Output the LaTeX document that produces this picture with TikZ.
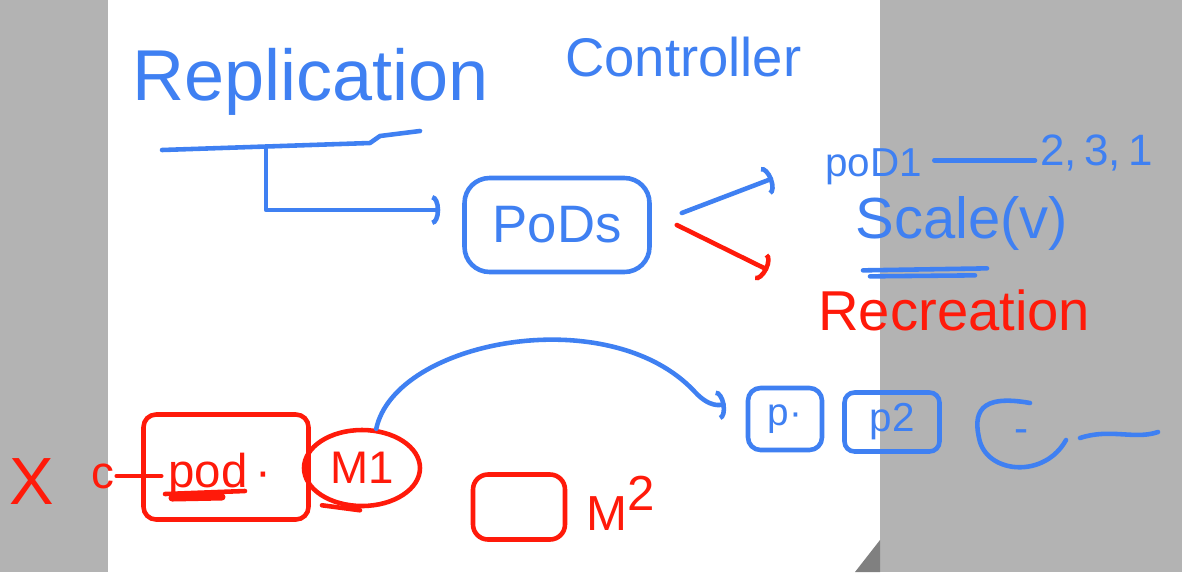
\documentclass[tikz,border=0pt]{standalone}
\usepackage{fontspec}
\setmainfont{Liberation Sans}
\usetikzlibrary{positioning,arrows.meta,calc,shapes.geometric}
\definecolor{pen}{HTML}{3F80F2}
\definecolor{ink}{HTML}{FF1A0A}
\definecolor{board}{HTML}{B3B3B3}
\definecolor{fold}{HTML}{808080}
\newcommand{\fs}[1]{\fontsize{#1}{#1}\selectfont}

\begin{document}
\begin{tikzpicture}[x=0.02cm,y=-0.02cm,
  bl/.style={pen,line width=2.6pt,line cap=round,line join=round},
  rd/.style={ink,line width=2.6pt,line cap=round,line join=round},
  bx/.style={draw,inner sep=0pt},
  tx/.style={inner sep=0pt,anchor=base west},
  ar/.style={-{Arc Barb[length=1.6mm,width=6mm]}}]
  \useasboundingbox (0,0) rectangle (1182,572);
  \fill[board] (0,0) rectangle (1182,572);
  \fill[white] (108,0) rectangle (880,572);
  \fill[fold] (855,572) -- (880,540) -- (880,572) -- cycle;

  % heading
  \node[tx,pen,font=\fs{41}] (repl) at (132,100) {Replication};
  \node[tx,pen,font=\fs{31}] (ctrl) at (565,76) {Controller};
  \coordinate (uline) at (266,147);
  \draw[bl] (162,150) -- (370,143) -- (380,136) -- (420,131);

  % pods and what they turn into
  \node[bx,bl,rounded corners=0.5cm,minimum width=3.7cm,minimum height=1.88cm] (pods) at (557,225) {};
  \node[pen,font=\fs{30},inner sep=0pt] (podstx) at (pods) {PoDs};
  \node[tx,pen,font=\fs{23}] (pod1) at (825,176) {poD1};
  \node[tx,pen,font=\fs{25}] (nums) at (1040,165) {2,\,3,\,1};
  \node[tx,pen,font=\fs{33}] (scale) at (855,238) {Scale(v)};
  \node[tx,ink,font=\fs{32}] (recr) at (818,330) {Recreation};
  \coordinate (redend) at (768,270);

  \draw[bl,ar] (uline) |- ($(pods.west)+(-22,-15)$);
  \draw[bl,ar] ($(pods.east)+(30,-12)$) -- ($(pod1.west)+(-52,12)$);
  \draw[rd,ar] ($(pods.east)+(25,0)$) -- (redend);
  \draw[bl] ($(pod1.east)+(12,-6)$) -- ($(pod1.east -| nums.west)+(-5,-6)$);
  \draw[bl] ($(scale.south west)+(8,20)$) -- ($(scale.south west)+(132,18)$);
  \draw[bl] ($(scale.south west)+(15,26)$) -- ($(scale.south west)+(120,25)$);

  % nodes and the pods on them
  \node[rd,font=\fs{38},inner sep=0pt] (cross) at (32,482) {X};
  \node[rd,font=\fs{26},inner sep=0pt] (cee) at (103,476) {c};
  \node[bx,rd,rounded corners=0.25cm,minimum width=3.3cm,minimum height=2.1cm] (pod) at (226,467) {};
  \node[tx,rd,font=\fs{27}] (podtx) at (166,487) {pod\,·};
  \draw[rd] (cee.east) -- (cee.east -| pod.west) -- ++(20,0);
  \draw[rd] (165,494) -- (245,491);
  \draw[rd,line width=4pt] (172,498) -- (222,497);
  \node[bx,rd,ellipse,minimum width=2.32cm,minimum height=1.52cm] (m1) at (362,468) {};
  \node[rd,font=\fs{26},inner sep=0pt] (m1tx) at (m1) {M1};
  \draw[rd] ($(m1.south)+(-40,-3)$) -- ($(m1.south)+(-2,2)$);
  \node[bx,rd,rounded corners=0.3cm,minimum width=1.84cm,minimum height=1.3cm] (m2) at (519,507) {};
  \node[tx,rd,font=\fs{28}] (m2tx) at (584,530) {M\raisebox{0.4em}{2}};

  \node[bx,bl,rounded corners=0.25cm,minimum width=1.48cm,minimum height=1.24cm] (p1) at (785,419) {};
  \node[pen,font=\fs{22},inner sep=0pt] (p1tx) at (p1) {p·};
  \node[bx,bl,rounded corners=0.2cm,minimum width=1.9cm,minimum height=1.18cm] (p2) at (892,422) {};
  \node[pen,font=\fs{23},inner sep=0pt] (p2tx) at (p2) {p2};
  \node[pen,font=\fs{24},inner sep=0pt] (p3) at (1022,436) {-};
  \draw[bl] (1030,403) .. controls (980,394) and (972,412) .. (980,442)
    .. controls (990,474) and (1045,478) .. (1066,440);
  \draw[bl] (1080,438) .. controls (1110,428) and (1135,440) .. (1158,432);

  \draw[bl,ar] (m1.70) .. controls (395,340) and (610,300) .. (695,392)
    .. controls (710,408) and (720,405) .. ($(p1.west)+(-20,-15)$);
\end{tikzpicture}
\end{document}
